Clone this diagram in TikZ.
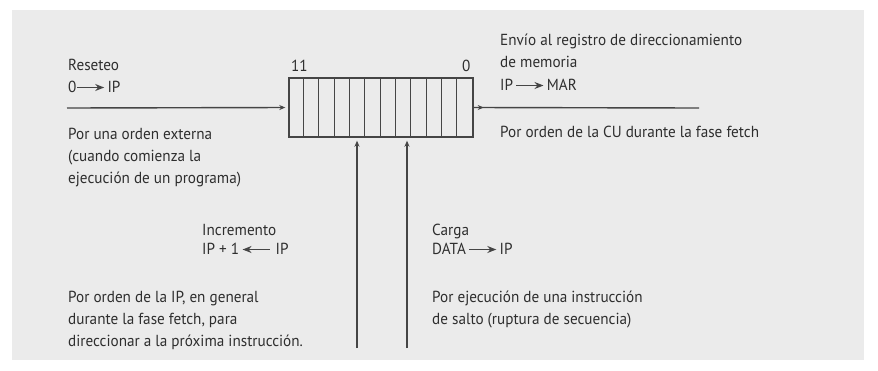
\documentclass[tikz,border=0pt]{standalone}
\usepackage{fontspec}
\setmainfont[FakeStretch=0.95]{PT Sans}
\usetikzlibrary{arrows.meta,decorations.markings,calc}
\definecolor{panel}{HTML}{EBEBEB}
\definecolor{ink}{HTML}{2E2E2E}
\definecolor{wire}{HTML}{454545}
\newcommand\rarr{\tikz[baseline]{\draw[wire,line width=1.4pt,-{Stealth[length=9pt,width=7pt]}] (0pt,4.5pt) -- (27pt,4.5pt);}}
\newcommand\larr{\tikz[baseline]{\draw[wire,line width=1.4pt,{Stealth[length=9pt,width=7pt]}-] (0pt,4.5pt) -- (27pt,4.5pt);}}
\tikzset{
  txt/.style={anchor=base west,inner sep=0pt,align=left,text=ink,font=\fontsize{16}{22}\selectfont},
  wireline/.style={draw=wire,line width=1.4pt},
  tip/.style={-{Stealth[length=6pt,width=5pt]}},
  regbox/.style={draw=wire,line width=1.4pt,minimum width=184pt,minimum height=59pt,inner sep=0pt}
}
\begin{document}
\begin{tikzpicture}[x=1pt,y=-1pt]
\useasboundingbox (0,0) rectangle (878,370);
\fill[white] (0,0) rectangle (878,370);
\fill[panel] (12,10) rectangle (864,360);
% register
\node[regbox] (reg) at (381,107.5) {};
\foreach \k in {1,...,11}{
  \draw[wire,line width=1pt] ($(reg.north west)+(\k*15.333,0)$) -- ($(reg.south west)+(\k*15.333,0)$);
}
\node[txt] (b11) at (291,71) {11};
\node[txt] (b0) at (462,71) {0};
% connectors
\coordinate (lin) at (67,108);
\coordinate (rout) at (699,108);
\coordinate (v1) at (357,348);
\coordinate (v2) at (407,348);
\draw[wireline,tip,shorten >=3pt] (lin) -- (reg.west);
\draw[wireline,postaction={decorate},decoration={markings,mark=at position 10pt with {\arrow{Stealth[length=6pt,width=5pt]}}}] (reg.east) -- (rout);
\draw[wireline,tip,shorten >=3pt] (v1) -- (v1 |- reg.south);
\draw[wireline,tip,shorten >=3pt] (v2) -- (v2 |- reg.south);
% texts
\node[txt] (reset) at (68,70) {Reseteo};
\node[txt] (reseteq) at (68,92) {0\rarr\,IP};
\node[txt] (ext1) at (68,139) {Por una orden externa};
\node[txt] (ext2) at (68,161) {(cuando comienza la};
\node[txt] (ext3) at (68,183) {ejecución de un programa)};
\node[txt] (env1) at (500,45) {Envío al registro de direccionamiento};
\node[txt] (env2) at (500,67) {de memoria};
\node[txt] (env3) at (500,90) {IP\,\rarr\,MAR};
\node[txt] (cu) at (500,137) {Por orden de la CU durante la fase fetch};
\node[txt] (inc1) at (202,235) {Incremento};
\node[txt] (inc2) at (202,254) {IP + 1\,\larr\,\,IP};
\node[txt] (ip1) at (68,302) {Por orden de la IP, en general};
\node[txt] (ip2) at (68,324) {durante la fase fetch, para};
\node[txt] (ip3) at (68,346) {direccionar a la próxima instrucción.};
\node[txt] (car1) at (432,235) {Carga};
\node[txt] (car2) at (432,254) {DATA\,\rarr\,IP};
\node[txt] (sal1) at (432,302) {Por ejecución de una instrucción};
\node[txt] (sal2) at (432,324) {de salto (ruptura de secuencia)};
\end{tikzpicture}
\end{document}
